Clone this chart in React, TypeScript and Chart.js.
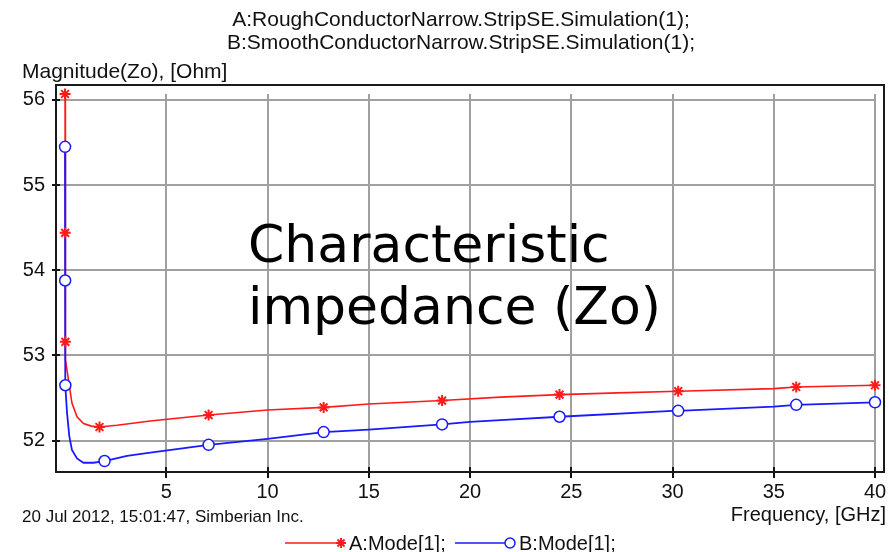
import React, { useEffect, useRef } from "react";
import { Chart, registerables } from "chart.js";

Chart.register(...registerables);

// ---- data ----
const freqA = [0, 0.005, 0.015, 0.03, 0.17, 0.34, 0.59, 0.91, 1.3, 1.7, 2.56, 4.21, 7.09, 10, 12.77, 15, 18.62, 21.5, 24.42, 27.3, 30.28, 35, 36.11, 40];
const zoA = [56.07, 54.44, 53.16, 52.95, 52.71, 52.44, 52.28, 52.2, 52.17, 52.16, 52.18, 52.23, 52.3, 52.36, 52.39, 52.43, 52.47, 52.51, 52.54, 52.56, 52.58, 52.61, 52.63, 52.65];
const freqB = [0, 0.005, 0.015, 0.1, 0.21, 0.34, 0.59, 0.91, 1.4, 1.95, 3.06, 4.21, 7.09, 10, 12.77, 15, 18.62, 20, 21.5, 24.42, 30, 30.28, 35, 36.11, 40];
const zoB = [55.45, 53.88, 52.65, 52.32, 52.05, 51.89, 51.79, 51.74, 51.74, 51.76, 51.82, 51.86, 51.95, 52.02, 52.1, 52.13, 52.19, 52.22, 52.24, 52.28, 52.35, 52.35, 52.4, 52.42, 52.45];
const markFreqA = [0, 0.005, 0.015, 1.7, 7.09, 12.77, 18.62, 24.42, 30.28, 36.11, 40];
const markZoA = [56.07, 54.44, 53.16, 52.16, 52.3, 52.39, 52.47, 52.54, 52.58, 52.63, 52.65];
const markFreqB = [0, 0.005, 0.015, 1.95, 7.09, 12.77, 18.62, 24.42, 30.28, 36.11, 40];
const markZoB = [55.45, 53.88, 52.65, 51.76, 51.95, 52.1, 52.19, 52.28, 52.35, 52.42, 52.45];

const xTicks = [5, 10, 15, 20, 25, 30, 35, 40];
const yTicks = [52, 53, 54, 55, 56];
const xRange = [-0.25, 40];
const yRange = [51.69, 56.07];

const titleLines = [
  "A:RoughConductorNarrow.StripSE.Simulation(1);",
  "B:SmoothConductorNarrow.StripSE.Simulation(1);",
];
const yTitle = "Magnitude(Zo), [Ohm]";
const xTitle = "Frequency, [GHz]";
const stamp = "20 Jul 2012, 15:01:47, Simberian Inc.";
const overlayLines = ["Characteristic", "impedance (Zo)"];
const legendLabels = ["A:Mode[1];", "B:Mode[1];"];

const RED = "#ff1a1a";
const BLUE = "#1a1aff";
const TEXT = "#111111";
const FONT = "'Liberation Sans', Arial, sans-serif";

const decorations = {
  id: "decorations",
  beforeDatasetsDraw(chart: any) {
    const ctx = chart.ctx;
    const a = chart.chartArea;
    ctx.save();
    ctx.strokeStyle = "#1a1a1a";
    ctx.lineWidth = 2;
    ctx.strokeRect(a.left - 4, a.top - 9, a.right - a.left + 13, a.bottom - a.top + 14);
    ctx.restore();
  },
  afterDraw(chart: any) {
    const ctx = chart.ctx;
    ctx.save();
    ctx.fillStyle = TEXT;
    ctx.textBaseline = "alphabetic";
    // titles
    ctx.font = `21px ${FONT}`;
    ctx.textAlign = "center";
    ctx.fillText(titleLines[0], 461, 26);
    ctx.fillText(titleLines[1], 461, 49);
    // y title
    ctx.textAlign = "left";
    ctx.font = `21px ${FONT}`;
    ctx.fillText(yTitle, 22, 78);
    // x title
    ctx.textAlign = "right";
    ctx.font = `20px ${FONT}`;
    ctx.fillText(xTitle, 886, 521);
    // stamp
    ctx.textAlign = "left";
    ctx.font = `17px ${FONT}`;
    ctx.fillText(stamp, 22, 522);
    // overlay text
    ctx.font = `52px 'DejaVu Sans', Verdana, sans-serif`;
    ctx.fillStyle = "#000";
    ctx.fillText(overlayLines[0], 248, 262);
    ctx.fillText(overlayLines[1], 248, 324);
    // legend
    const ly = 543;
    ctx.font = `20px ${FONT}`;
    ctx.fillStyle = TEXT;
    ctx.lineWidth = 1.5;
    ctx.strokeStyle = RED;
    ctx.beginPath();
    ctx.moveTo(285, ly);
    ctx.lineTo(340, ly);
    ctx.stroke();
    const sx = 341, r = 5;
    ctx.lineWidth = 2;
    ctx.beginPath();
    for (let k = 0; k < 4; k++) {
      const ang = (k * Math.PI) / 4;
      ctx.moveTo(sx - r * Math.cos(ang), ly - r * Math.sin(ang));
      ctx.lineTo(sx + r * Math.cos(ang), ly + r * Math.sin(ang));
    }
    ctx.stroke();
    ctx.fillText(legendLabels[0], 349, ly + 7);
    ctx.strokeStyle = BLUE;
    ctx.lineWidth = 1.5;
    ctx.beginPath();
    ctx.moveTo(455, ly);
    ctx.lineTo(505, ly);
    ctx.stroke();
    ctx.beginPath();
    ctx.arc(510, ly, 5, 0, Math.PI * 2);
    ctx.fillStyle = "#fff";
    ctx.fill();
    ctx.stroke();
    ctx.fillStyle = TEXT;
    ctx.fillText(legendLabels[1], 519, ly + 7);
    ctx.restore();
  },
};

export default function App() {
  const ref = useRef<HTMLCanvasElement | null>(null);
  useEffect(() => {
    if (!ref.current) return;
    const chart = new Chart(ref.current, {
      type: "line",
      data: {
        datasets: [
          {
            data: freqA.map((x, i) => ({ x, y: zoA[i] })),
            borderColor: RED,
            borderWidth: 1.6,
            pointRadius: 0,
            tension: 0,
            order: 4,
          },
          {
            data: freqB.map((x, i) => ({ x, y: zoB[i] })),
            borderColor: BLUE,
            borderWidth: 1.8,
            pointRadius: 0,
            tension: 0,
            order: 3,
          },
          {
            data: markFreqA.map((x, i) => ({ x, y: markZoA[i] })),
            showLine: false,
            pointStyle: "star",
            pointRadius: 5.5,
            borderColor: RED,
            backgroundColor: RED,
            pointBorderWidth: 2,
            clip: false,
            order: 2,
          },
          {
            data: markFreqB.map((x, i) => ({ x, y: markZoB[i] })),
            showLine: false,
            pointStyle: "circle",
            pointRadius: 5.5,
            borderColor: BLUE,
            backgroundColor: "#ffffff",
            pointBorderWidth: 1.5,
            clip: false,
            order: 1,
          },
        ],
      },
      options: {
        responsive: false,
        animation: false,
        layout: { padding: { top: 94, right: 14, left: 0, bottom: 0 } },
        plugins: { legend: { display: false }, title: { display: false }, tooltip: { enabled: false } },
        scales: {
          x: {
            type: "linear",
            min: xRange[0],
            max: xRange[1],
            afterBuildTicks: (s: any) => {
              s.ticks = xTicks.map((v) => ({ value: v }));
            },
            afterFit: (s: any) => {
              s.height = 85;
            },
            grid: { color: "#a0a0a0", lineWidth: 2, tickColor: "#111", tickLength: 11, tickWidth: 2 },
            border: { display: false },
            ticks: { color: TEXT, font: { family: FONT, size: 20 }, padding: 2, maxRotation: 0, autoSkip: false },
          },
          y: {
            type: "linear",
            min: yRange[0],
            max: yRange[1],
            afterBuildTicks: (s: any) => {
              s.ticks = yTicks.map((v) => ({ value: v }));
            },
            afterFit: (s: any) => {
              s.width = 60;
            },
            grid: { color: "#a0a0a0", lineWidth: 2, tickColor: "#111", tickLength: 8, tickWidth: 2 },
            border: { display: false },
            ticks: { color: TEXT, font: { family: FONT, size: 20 }, padding: 7, autoSkip: false },
          },
        },
      },
      plugins: [decorations],
    });
    return () => chart.destroy();
  }, []);
  return (
    <div style={{ position: "absolute", left: 0, top: 0, width: 889, height: 552, background: "#fff" }}>
      <canvas ref={ref} width={889} height={552} style={{ display: "block", width: 889, height: 552 }} />
    </div>
  );
}
